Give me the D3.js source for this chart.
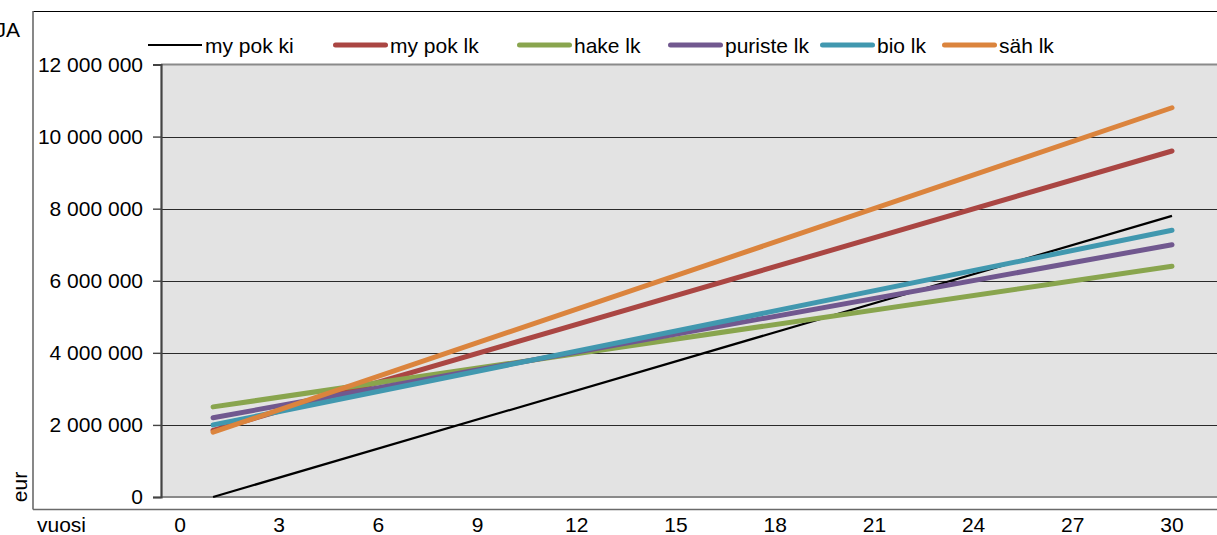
<!DOCTYPE html>
<html>
<head>
<meta charset="utf-8">
<script src="https://cdn.jsdelivr.net/npm/d3@7"></script>
<style>
  body { margin: 0; background: #fff; }
  svg { display: block; font-family: "Liberation Sans", Arial, sans-serif; }
</style>
</head>
<body>
<div id="chart"></div>
<script>
// series, in legend order
const seriesNames = ['my pok ki', 'my pok lk', 'hake lk', 'puriste lk', 'bio lk', 'säh lk']
const seriesColors = ['#000000', '#aa4643', '#89a54e', '#71588f', '#4198af', '#db843d']
const years = [1, 30]
const myPokKi = [0, 7800000]
const myPokLk = [1850000, 9600000]
const hakeLk = [2500000, 6400000]
const puristeLk = [2200000, 7000000]
const bioLk = [2000000, 7400000]
const sahLk = [1800000, 10800000]
const xTicks = [0, 3, 6, 9, 12, 15, 18, 21, 24, 27, 30]
const yTicks = [0, 2000000, 4000000, 6000000, 8000000, 10000000, 12000000]

const drawChart = () => {

	const width = 1217
	const height = 535

	const values = [myPokKi, myPokLk, hakeLk, puristeLk, bioLk, sahLk]
	const series = seriesNames.map((name, i) => ({
		name: name,
		color: seriesColors[i],
		width: i === 0 ? 2.2 : 5,
		points: years.map((y, j) => ({ x: y, v: values[i][j] }))
	}))

	let svg = d3.select('#chart')
				.append('svg')
				.attr('width', width)
				.attr('height', height)

	const plot = { left: 161, right: 1235, top: 64.5, bottom: 497 }

	let x = d3.scaleLinear()
				.domain([0, 30])
				.range([180, 1172])

	let y = d3.scaleLinear()
				.domain([0, 12000000])
				.range([plot.bottom, plot.top])

	const fmt = d => d3.format(',')(d).replace(/,/g, ' ')

	// outer frame (partly cut off on the right)
	svg.append('line').attr('x1', 33).attr('x2', width).attr('y1', 11.5).attr('y2', 11.5)
		.attr('stroke', '#000').attr('stroke-width', 1.2)
	svg.append('line').attr('x1', 33).attr('x2', 33).attr('y1', 11).attr('y2', 509.5)
		.attr('stroke', '#6a6a6a').attr('stroke-width', 1.6)
	svg.append('line').attr('x1', 33).attr('x2', width).attr('y1', 509.5).attr('y2', 509.5)
		.attr('stroke', '#6a6a6a').attr('stroke-width', 1.4)

	// plot area
	svg.append('rect')
		.attr('x', plot.left)
		.attr('y', plot.top)
		.attr('width', plot.right - plot.left)
		.attr('height', plot.bottom - plot.top)
		.attr('fill', '#e3e3e3')

	// gridlines
	svg.selectAll('.grid')
		.data(yTicks.filter(d => d > 0 && d < 12000000))
		.enter()
		.append('line')
		.attr('class', 'grid')
		.attr('x1', plot.left)
		.attr('x2', plot.right)
		.attr('y1', d => Math.round(y(d)) + 0.5)
		.attr('y2', d => Math.round(y(d)) + 0.5)
		.attr('stroke', '#2a2a2a')
		.attr('stroke-width', 1.2)

	// top and bottom borders of the plot area
	svg.append('line').attr('x1', plot.left).attr('x2', plot.right).attr('y1', plot.top).attr('y2', plot.top)
		.attr('stroke', '#8a8a8a').attr('stroke-width', 2.2)
	svg.append('line').attr('x1', plot.left).attr('x2', plot.right).attr('y1', plot.bottom).attr('y2', plot.bottom)
		.attr('stroke', '#8a8a8a').attr('stroke-width', 2.2)

	// y axis
	let yAxis = d3.axisLeft(y)
					.tickValues(yTicks)
					.tickFormat(fmt)
					.tickSize(8)
					.tickPadding(10)

	let gy = svg.append('g')
				.attr('transform', `translate(${plot.left},0)`)
				.call(yAxis)
	gy.select('.domain').attr('stroke', '#444').attr('stroke-width', 2.2)
	gy.selectAll('.tick line').attr('stroke', '#444').attr('stroke-width', 1.4)
	gy.selectAll('.tick text').attr('font-size', 21).attr('fill', '#000')
		.attr('font-family', '"Liberation Sans", Arial, sans-serif')

	// x tick labels
	svg.selectAll('.xlab')
		.data(xTicks)
		.enter()
		.append('text')
		.attr('class', 'xlab')
		.attr('x', d => x(d))
		.attr('y', 532)
		.attr('text-anchor', 'middle')
		.attr('font-size', 21)
		.text(d => d)

	svg.append('text').attr('x', 37).attr('y', 532).attr('font-size', 21).text('vuosi')
	svg.append('text').attr('x', 20).attr('y', 37).attr('font-size', 21).attr('text-anchor', 'end').text('JA')
	svg.append('text')
		.attr('transform', 'translate(27,487) rotate(-90)')
		.attr('text-anchor', 'middle')
		.attr('font-size', 21)
		.text('eur')

	// lines
	let line = d3.line()
				.x(d => x(d.x))
				.y(d => y(d.v))

	svg.selectAll('.series')
		.data(series)
		.enter()
		.append('path')
		.attr('class', 'series')
		.attr('d', d => line(d.points))
		.attr('fill', 'none')
		.attr('stroke', d => d.color)
		.attr('stroke-width', d => d.width)
		.attr('stroke-linecap', (d, i) => i === 0 ? 'butt' : 'round')

	// legend
	const legendX = [148, 333, 517, 668, 820, 942]
	let legend = svg.selectAll('.legend')
					.data(series)
					.enter()
					.append('g')
					.attr('class', 'legend')
					.attr('transform', (d, i) => `translate(${legendX[i]},45)`)

	legend.append('line')
		.attr('x1', (d, i) => i === 0 ? 0 : 2.5)
		.attr('x2', (d, i) => i === 0 ? 54 : 52.5)
		.attr('stroke', d => d.color)
		.attr('stroke-width', d => d.width)
		.attr('stroke-linecap', (d, i) => i === 0 ? 'butt' : 'round')

	legend.append('text')
		.attr('x', 57)
		.attr('y', 7.5)
		.attr('font-size', 21)
		.text(d => d.name)
}

drawChart()
</script>
</body>
</html>
